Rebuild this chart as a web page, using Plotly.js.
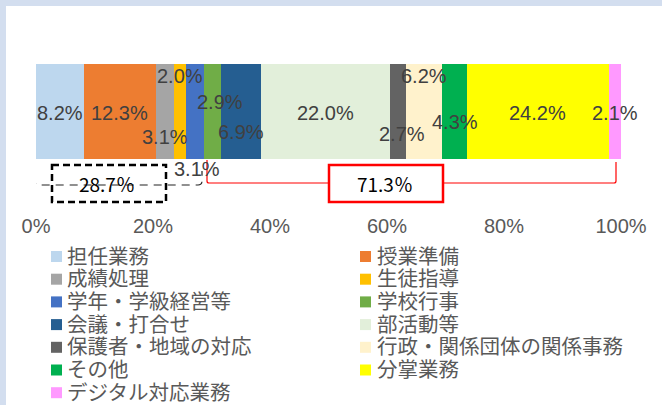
<!DOCTYPE html>
<html><head><meta charset="utf-8">
<script src="https://cdn.plot.ly/plotly-3.0.1.min.js"></script>
<style>
html,body{margin:0;padding:0;width:662px;height:405px;overflow:hidden;background:#D3DEEF;}
#chart{position:absolute;left:6px;top:6px;width:656px;height:399px;background:#fff;}
</style>
</head><body><div id="chart"></div>
<script>
// ---- data ----
const categories = ['担任業務','授業準備','成績処理','生徒指導','学年・学級経営等','学校行事','会議・打合せ','部活動等','保護者・地域の対応','行政・関係団体の関係事務','その他','分掌業務','デジタル対応業務'];
const values = [8.2, 12.3, 3.1, 2.0, 3.1, 2.9, 6.9, 22.0, 2.7, 6.2, 4.3, 24.2, 2.1];
const tickValues = [0, 20, 40, 60, 80, 100];
const groupSplit = 5; // first five categories form the left group

// ---- styles / positions ----
const colors = ['#BDD7EE','#ED7D31','#A5A5A5','#FFC000','#4472C4','#70AD47','#255E91','#E2EFDA','#636363','#FFF2CC','#00B050','#FFFF00','#FF99FF'];
const labelShiftX = [0,0,0,0,2,8,0,0,4,0,0,0,0];
const labelShiftY = [-1,-1,-25,36,-57,10,-20,-1,-22,36,-10,-1,-1];

// pixel helpers (reference image px; div is offset by 6px)
const X0 = 36, XW = 585, YT = 64, BARH = 95, YB = 212;
const xv = px => (px - X0) / XW * 100;          // px -> x data (%)
const yv = py => 0.5 - (py - YT) / BARH;         // px -> y data
const xp = px => (px - X0) / XW;                 // px -> paper x
const yp = py => (YB - py) / (YB - YT);          // px -> paper y

const traces = categories.map((c, i) => ({
  type: 'bar', orientation: 'h', name: c,
  x: [values[i]], y: [0], width: 1,
  marker: {color: colors[i], line: {width: 0}},
  hoverinfo: 'none', showlegend: false
}));

const annotations = [];
const shapes = [];
let cum = 0;
values.forEach((v, i) => {
  annotations.push({
    x: cum + v / 2, y: 0, xref: 'x', yref: 'y', showarrow: false,
    text: v.toFixed(1) + '%', xshift: labelShiftX[i], yshift: labelShiftY[i],
    font: {family: 'Liberation Sans, Arial, sans-serif', size: 20, color: '#404040'}
  });
  cum += v;
});

const leftSum = values.slice(0, groupSplit).reduce((a, b) => a + b, 0);
const rightSum = values.slice(groupSplit).reduce((a, b) => a + b, 0);
const total = leftSum + rightSum;

// dashed bracket (left group)
shapes.push({type: 'path', xref: 'x', yref: 'y',
  path: `M ${xv(35)},${yv(162)} L ${xv(35)},${yv(181)} Q ${xv(35)},${yv(185)} ${xv(39)},${yv(185)} L ${xv(198)},${yv(185)} Q ${xv(202)},${yv(185)} ${xv(202)},${yv(181)} L ${xv(202)},${yv(171)}`,
  line: {color: '#222', width: 1.2, dash: '8px,6px'}});
// dashed box
shapes.push({type: 'rect', xref: 'x', yref: 'y', x0: xv(52), x1: xv(166), y0: yv(165), y1: yv(202),
  line: {color: '#000', width: 2.5, dash: '7px,4px'}, fillcolor: 'rgba(0,0,0,0)'});
// red bracket (right group)
shapes.push({type: 'path', xref: 'x', yref: 'y',
  path: `M ${xv(207)},${yv(160)} L ${xv(207)},${yv(181)} Q ${xv(207)},${yv(183)} ${xv(209)},${yv(183)} L ${xv(614)},${yv(183)} Q ${xv(616)},${yv(183)} ${xv(616)},${yv(181)} L ${xv(616)},${yv(162)}`,
  line: {color: '#FF0000', width: 1.2}});
// red box
shapes.push({type: 'rect', xref: 'x', yref: 'y', x0: xv(329), x1: xv(443), y0: yv(165), y1: yv(202),
  line: {color: '#FF0000', width: 2.5}, fillcolor: '#FFFFFF'});

annotations.push({x: xv(107), y: yv(183), xref: 'x', yref: 'y', showarrow: false,
  text: (leftSum / total * 100).toFixed(1) + '％',
  font: {family: 'Noto Sans CJK JP', size: 19, color: '#000'}});
annotations.push({x: xv(385), y: yv(183), xref: 'x', yref: 'y', showarrow: false,
  text: (rightSum / total * 100).toFixed(1) + '％',
  font: {family: 'Noto Sans CJK JP', size: 19, color: '#000'}});

// legend (two columns)
categories.forEach((c, i) => {
  const row = Math.floor(i / 2), col = i % 2;
  const cy = 254.5 + row * 22.7;
  const sx = col === 0 ? 51 : 360;
  const tx = col === 0 ? 66 : 376;
  shapes.push({type: 'rect', xref: 'paper', yref: 'paper',
    x0: xp(sx), x1: xp(sx + 11), y0: yp(cy + 2 + 5.5), y1: yp(cy + 2 - 5.5),
    line: {width: 0}, fillcolor: colors[i]});
  annotations.push({x: xp(tx), y: yp(cy), xref: 'paper', yref: 'paper', xanchor: 'left', yanchor: 'middle',
    showarrow: false, borderpad: 0, text: c,
    font: {family: 'Noto Sans CJK JP', size: 20.5, color: '#595959'}});
});

const layout = {
  width: 656, height: 399,
  margin: {l: 30, r: 41, t: 58, b: 193, pad: 0},
  paper_bgcolor: '#FFFFFF', plot_bgcolor: 'rgba(0,0,0,0)',
  barmode: 'stack', bargap: 0, showlegend: false,
  xaxis: {range: [0, 100], tickvals: tickValues, ticktext: tickValues.map(v => v + '%'),
    showgrid: false, zeroline: false, showline: false, ticks: '',
    tickfont: {family: 'Liberation Sans, Arial, sans-serif', size: 20, color: '#595959'}, fixedrange: true},
  yaxis: {range: [yv(YB), 0.5], visible: false, fixedrange: true},
  shapes: shapes, annotations: annotations
};
Plotly.newPlot('chart', traces, layout, {displayModeBar: false, staticPlot: true});
</script>
</body></html>
